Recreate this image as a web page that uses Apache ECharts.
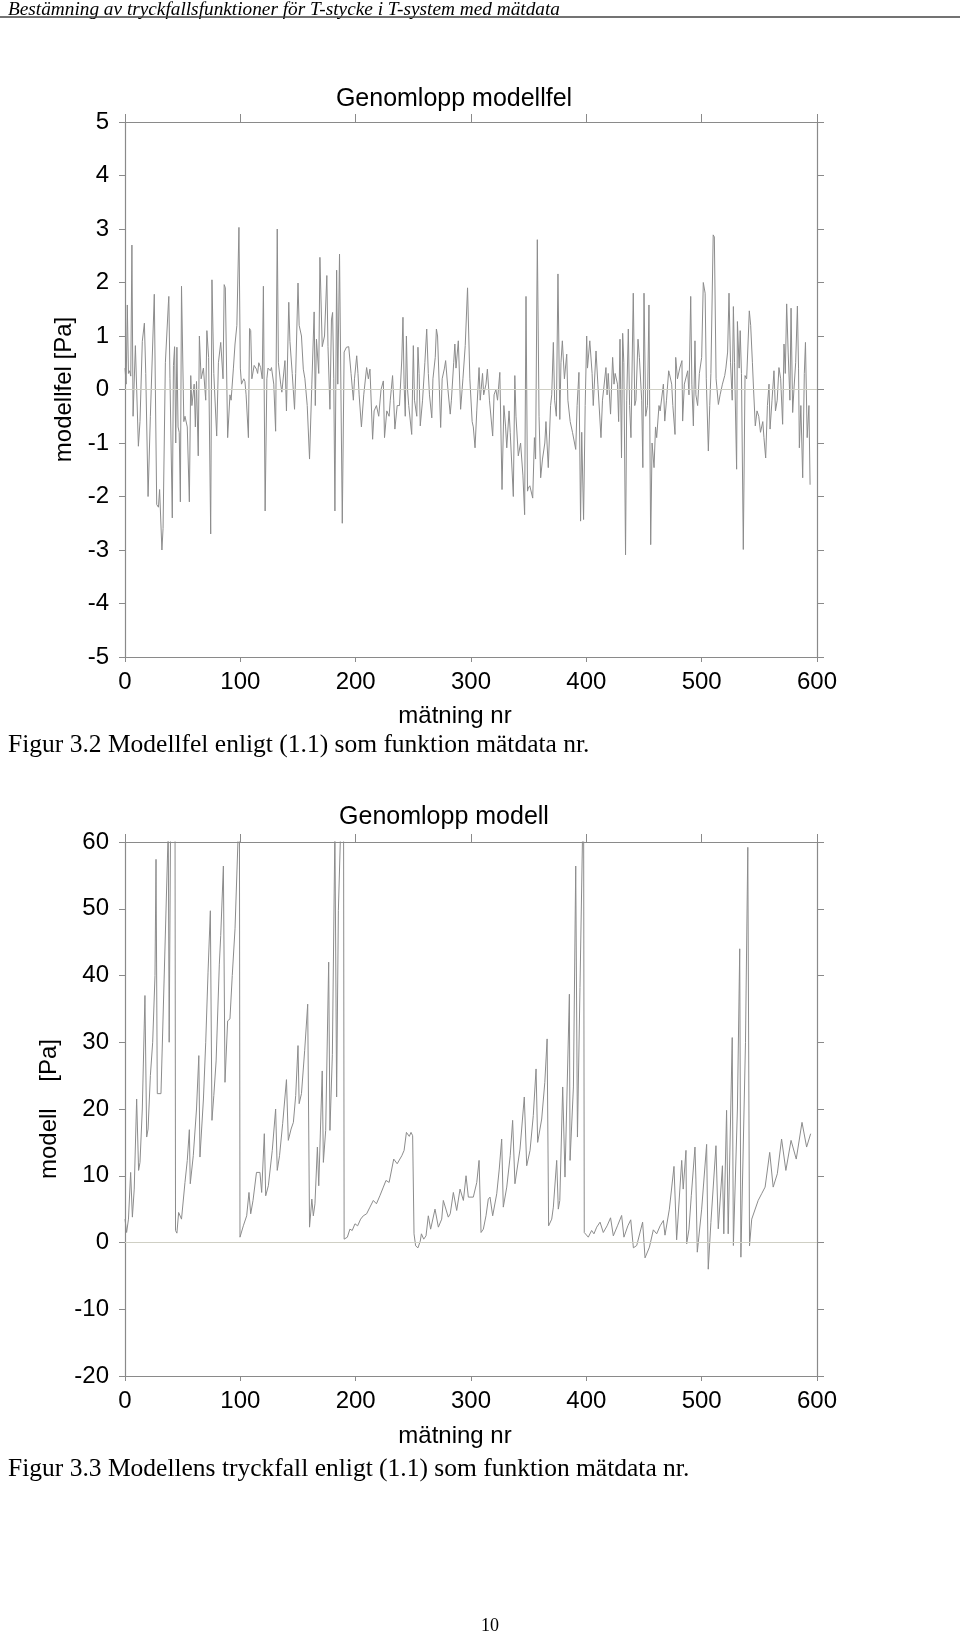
<!DOCTYPE html>
<html>
<head>
<meta charset="utf-8">
<script src="https://cdn.jsdelivr.net/npm/echarts@6/dist/echarts.min.js"></script>
<style>
html,body{margin:0;padding:0;background:#fff;}
#c{width:960px;height:1634px;}
</style>
</head>
<body>
<div id="c"></div>
<script>
// ---- Data ----
const headerText = 'Bestämning av tryckfallsfunktioner för T-stycke i T-system med mätdata';
const title1 = 'Genomlopp modellfel';
const title2 = 'Genomlopp modell';
const xName = 'mätning nr';
const yName1 = 'modellfel [Pa]';
const yName2 = 'modell    [Pa]';
const caption1 = 'Figur 3.2 Modellfel enligt (1.1) som funktion mätdata nr.';
const caption2 = 'Figur 3.3 Modellens tryckfall enligt (1.1) som funktion mätdata nr.';
const pageNo = '10';
const xTicks = [0, 100, 200, 300, 400, 500, 600];
const y1Range = [-5, 5, 1];
const y2Range = [-20, 60, 10];

// Modellfel [mätning nr, Pa]
const modellfel = [
[0,0.4],[1,0.1],[2,1.58],[3,0.3],[4,0.35],[5,0.25],[6,2.7],[7,-0.5],[9,0.82],[11.6,-1.06],[13,-0.6],[15,0.9],[16.8,1.24],[18,0.3],[20,-2.0],[22,-0.5],[25.4,1.78],[27.5,-2.15],[29,-2.2],[30,-1.87],[32,-3.0],[33,-2.6],[35,0.5],[37.6,1.6],[38,1.74],[39,0.2],[41,-2.4],[42,0.45],[43,0.8],[44,-1.0],[45,0.79],[46,-0.7],[47,-0.8],[48,-2.1],[49,1.93],[51,-0.6],[52,-0.5],[54,-0.7],[55.8,-2.1],[57,0.26],[58,-0.3],[60,0.1],[61,-0.7],[62,0.15],[63.5,-1.24],[64.5,1.0],[66,0.2],[68,0.4],[70,-0.2],[71,1.1],[72.5,0.6],[74.3,-2.7],[75.4,2.05],[77,0.3],[79.5,-0.87],[81,0.5],[83,0.88],[85,0.2],[86,1.96],[87,1.9],[89,-0.9],[91,-0.1],[92,-0.2],[94,0.4],[95.4,0.85],[97,1.2],[98.8,3.03],[100,0.4],[101,0.1],[103,0.2],[104,0.15],[105,-0.1],[107,-0.9],[108,1.14],[109,1.1],[110,0.2],[111,0.22],[112,0.45],[114,0.38],[115,0.3],[116,0.5],[117.6,0.41],[119,0.2],[120,1.93],[121.5,-2.27],[123,0.2],[124,0.4],[126,0.35],[127,0.41],[129,0.1],[130.6,-0.78],[132,3.0],[133,0.5],[135,0.1],[136,-0.05],[138.7,0.54],[140,-0.4],[142,1.63],[143,0.9],[145,0.3],[147,-0.37],[148,0.3],[150,1.99],[151,1.2],[153,1.0],[154.6,0.38],[156,0.2],[158,-0.3],[160,-1.3],[162,0.1],[164,1.45],[165,-0.3],[166,0.94],[168,0.3],[169,2.47],[171,0.8],[173,1.0],[175,2.13],[176,0.8],[177.7,-0.37],[179,1.3],[180,1.44],[181,0.2],[182,-2.27],[183.5,2.23],[184.5,0.1],[186,2.53],[187,2.5],[188.4,-2.5],[190,0.7],[192,0.79],[194,0.8],[196,0.3],[198,-0.2],[199,0.2],[200.9,0.63],[202,0.3],[203,-0.1],[205,-0.7],[207,-0.1],[209.5,0.41],[211,0.2],[212.4,0.38],[214.7,-0.93],[216,-0.4],[218,-0.3],[220,-0.5],[222,0.0],[224,0.16],[225,-0.9],[227,-0.4],[229,-0.5],[230,-0.2],[232,0.26],[233,-0.2],[234,-0.74],[236,-0.3],[238,-0.3],[240,0.57],[241,1.35],[242,0.1],[243,-0.5],[244,1.0],[245,0.0],[246,-0.3],[248.6,-0.84],[250,0.82],[251,-0.2],[253,-0.5],[254,0.79],[255,0.3],[256,-0.68],[258,-0.2],[260,0.5],[261.6,1.13],[263,0.3],[264,-0.1],[266,-0.53],[267,0.2],[269,0.6],[270,1.13],[271,1.0],[273.7,-0.71],[275,0.2],[277,0.4],[278,0.54],[280,0.0],[282,-0.46],[283,-0.2],[285,0.5],[286,0.85],[287,0.4],[289,0.91],[291,-0.37],[293,0.2],[295,0.82],[297,1.9],[299,0.2],[301,-0.6],[302,-0.7],[303.5,-1.09],[305,-0.4],[307,0.41],[308,-0.2],[310,0.3],[311,-0.1],[313,0.1],[314.2,0.38],[316,-0.2],[318.8,-0.87],[320,-0.1],[321.6,0.0],[323,-0.2],[325,0.32],[326.9,-1.87],[328.5,-0.3],[330,-0.7],[331,-1.09],[333,-0.4],[334,-0.8],[336.7,-2.0],[338,0.26],[339,-0.5],[341,-1.24],[343,-1.0],[345,-1.6],[346.5,-2.34],[347.7,1.74],[349,-1.9],[349.7,-1.84],[351,-1.8],[353.5,-2.03],[355,-0.9],[356,-1.3],[357.5,2.8],[359,-0.5],[360.4,-1.65],[362,-1.3],[364,-1.0],[365,-0.6],[367,-1.46],[369,-0.3],[370,-0.1],[371.4,0.88],[372.5,-0.2],[374,-0.5],[375.4,2.16],[377,-0.56],[378,0.5],[379.2,0.91],[381,0.2],[383,0.66],[384,-0.2],[386,-0.6],[388,-0.8],[390.8,-1.12],[392,-0.3],[393.6,0.32],[395,-2.46],[396,-0.8],[397.6,-2.43],[399,-0.3],[400.3,1.0],[401,0.4],[403,0.91],[405,0.3],[406,-0.3],[408.4,0.72],[410,0.1],[412.7,-0.9],[414,-0.2],[415,0.0],[417,0.41],[418,-0.1],[419,0.3],[421,-0.46],[422.8,0.6],[424,0.1],[425,0.3],[427,0.1],[428,-0.6],[429.2,0.94],[430.5,-1.28],[431.5,1.05],[432.5,0.5],[434,-3.09],[435,-0.2],[436.4,1.13],[437.5,-0.3],[438.7,-0.9],[440.7,1.8],[442,-0.3],[443,-0.2],[444.8,0.94],[446,0.6],[448,-0.2],[449,-1.46],[450,1.8],[451.5,-0.5],[453,-0.3],[454.3,1.58],[455.8,-2.9],[457,-1.0],[458.7,-1.46],[460,-0.7],[461,-0.9],[463,-0.3],[464,-0.4],[466.8,0.1],[468,-0.59],[469.5,-0.2],[471.4,0.35],[472,0.3],[474,0.1],[475,-0.3],[476.9,-0.84],[477.5,0.6],[479,0.2],[481,0.4],[482.9,0.54],[483.5,-0.59],[485,0.1],[487.9,0.35],[489,-0.1],[490.5,1.74],[491.5,0.1],[492.8,-0.68],[494.2,0.91],[495,-0.1],[496.5,-0.3],[498,0.3],[500,0.6],[501.4,2.0],[503,1.8],[504,0.2],[505.8,-1.15],[507,-0.3],[508,0.3],[510,2.89],[511,2.85],[512.5,0.2],[514.5,-0.28],[516,-0.1],[518,0.1],[520,0.26],[521,0.4],[522.5,0.7],[523.7,1.8],[525,0.5],[526.5,-0.2],[527.5,1.55],[528.5,0.5],[530.3,-1.49],[531,1.27],[532.5,0.4],[533.4,1.1],[534.5,0.3],[536.1,-2.99],[537.6,0.26],[539,0.2],[541.3,1.47],[542.5,1.2],[544,0.5],[545,0.0],[546.5,-0.68],[548,-0.4],[549.5,-0.5],[551,-0.8],[553,-0.6],[554,-0.9],[555.5,-1.28],[557,-0.3],[558.4,0.1],[559.3,-0.74],[561,-0.2],[562.7,0.35],[564,-0.4],[565.5,-0.2],[567,0.41],[568.5,0.2],[570.2,-0.65],[571.4,0.85],[572.5,0.3],[573.7,1.6],[575,0.7],[576.5,-0.2],[577.5,1.52],[578.9,-0.43],[580,0.0],[581.5,0.5],[583,1.56],[584,0.4],[584.7,-1.09],[586,-0.3],[587.6,-1.65],[589,0.3],[590,0.88],[591.5,-0.9],[593,-0.3],[594,-1.78]
];

// Modell [mätning nr, Pa]
const modell = [
[0,3.5],[1.4,1.5],[3,3.5],[4.9,10.5],[6.4,3.8],[8,8],[10.1,21.5],[11.8,10.8],[13,12],[15,20],[17.3,37],[18.8,15.8],[20,17],[22,25],[24,30],[26,40],[26.9,57.4],[28,22.3],[31.2,22.3],[37.5,62],[38.3,30],[39.5,62],[41,72],[43.3,75],[43.8,1.8],
[45,1.4],[46.5,4.5],[49,3.5],[52,9],[54,12.3],[55.8,16.9],[56.6,8.8],[59.2,13],[62,20],[64,28],[65,12.8],[68,21.5],[70,30],[72,40.5],[74,49.7],[75.4,18.3],[77,22],[79,27.2],[81.8,41.7],[83,46],[85.3,56.4],[86.7,24],[89,33.2],[91,33.5],[93,40],[95.4,47],[98.3,62],[99.2,66],[99.7,0.8],
[102.6,2.5],[105.5,4],[107.5,7.5],[109,4.3],[111,6.3],[114,10.5],[117,10.5],[118.5,7.5],[120.8,16.3],[122,7],[124.3,8.5],[127.7,13.8],[129,13.8],[130.6,20],[132,10.8],[134,13],[136.7,17.8],[137.9,18],[140,24.4],[141.6,15.3],[144,17],[146,18],[148,22],[150,29.5],[151,20.8],[153,22.3],[155.8,28.8],[157.5,29],[158.4,35.7],[160,2.3],
[160.6,2.5],[162,6.5],[163.3,4],[164.7,5.8],[166.8,14.3],[168,8.5],[171,25.7],[172,12],[174,16.8],[176.6,42],[177.7,16.8],[179.8,28.2],[182,62],[183.5,21.8],[185,49.7],[187,62],[188,70],[189.5,66],[190,0.5],
[190.8,0.5],[192.8,0.8],[195,2],[197,1.8],[199.4,2.8],[201.7,2.5],[204.3,3.5],[206.6,4],[209.5,4.3],[212.4,5.3],[215.3,6.3],[218,5.8],[221,7],[224,8.3],[226.3,9.3],[229,9],[233,12.5],[236,11.8],[240,13],[242,13.8],[244,16.5],[246.5,15.9],[248,16.5],[249.4,16],[250.6,1.3],
[252,-0.5],[254,-0.8],[256,0.2],[257,1.3],[259,0.5],[261,1],[263,4],[265,2],[268.8,5],[271.7,2.3],[274.6,3.5],[276,6.3],[277.5,6.3],[280.3,3.8],[282,4.3],[284.7,7.5],[287.6,4.8],[290.5,8],[293.4,6.3],[295.7,10],[297.7,6.8],[302,6.8],[305,9],[307,12.3],[308.7,1.5],[310.7,2],[313,4],[315,6.5],[316.5,6.8],[318.8,4],[322.3,7.3],[324.5,11],[326.6,15.5],[328,5.3],[331,8.3],[334,13],[336.1,18.3],[338.1,8.8],[342.5,14],[346.2,21.8],[348.3,11.5],[351.2,13.8],[354,19],[356.4,26],[357.8,15],[361.3,18.5],[364,24],[366,30.5],[367.3,2.5],
[370,3.5],[371.4,5.3],[374.3,12.3],[375.7,5],[377,6.3],[379.5,23.3],[381.5,9.8],[385.3,37.2],[385.9,12.3],[388.8,23.3],[390.8,56.4],[392.3,15.8],[394.5,38.2],[396.8,62],[397.6,70],[398.2,1.5],
[401.7,0.8],[404.6,1.8],[406.6,1.3],[409,2.3],[411.9,3.05],[414.7,1.5],[418,2.5],[421,3.7],[423.4,1.0],[427,2.5],[430.6,4.05],[432.6,0.8],[436,2.5],[438.5,3.4],[440.8,-0.8],[443.7,-0.45],[448.8,3.05],[450.9,-2.3],[454.7,-0.7],[458.1,1.9],[461,1.3],[464,2.5],[466.8,3.3],[468.2,1.1],[472,5],[476,11.4],[478.3,0.4],[482.7,12.3],[484,8],[486.4,13.8],[487,-0.2],[489,2],[491,7],[494.2,14.3],[495,9.5],[496.2,-1.45],[500,5],[504.3,14.7],[505.7,-4],[508,3],[512.4,14.5],[514.4,2.05],[518,11.5],[519.2,1.3],[521.6,19.8],[523,1.3],[526.5,30.7],[527.5,-0.45],[531,20],[533,44],[534,-2.2],[538,30],[540,59.2],[541.5,-0.5],
[543.4,3.5],[545,3.5],[549,6.3],[552,7.3],[555,8.3],[559,13.5],[562,8.3],[565.6,10.3],[569.3,15.5],[573,10.8],[577.5,15.3],[582,12.5],[587,18],[591,14.3],[594.5,16.3]
];

// ---- Chart ----
const chart = echarts.init(document.getElementById('c'), null, {renderer: 'canvas'});
const AX = '#8a8a8a';
const LINE = '#8c8c8c';
const ZERO = '#cfcfc4';
const SANS = '"Liberation Sans", Arial, sans-serif';
const SERIF = '"Liberation Serif", "Times New Roman", serif';
const FS = 24;

const grids = [
  {left: 125, top: 122, width: 692, height: 535},
  {left: 125, top: 842, width: 692, height: 534}
];

function xAxes(gi, nameGap) {
  return [
    {
      type: 'value', gridIndex: gi, position: 'bottom', min: xTicks[0], max: xTicks[xTicks.length - 1], interval: 100,
      name: xName, nameLocation: 'middle', nameGap: nameGap,
      nameTextStyle: {fontFamily: SANS, fontSize: FS, color: '#000', padding: [0, 32, 0, 0]},
      axisLine: {show: true, onZero: false, lineStyle: {color: AX, width: 1.2}},
      axisTick: {show: true, inside: false, length: 5, lineStyle: {color: AX}},
      axisLabel: {show: true, margin: 13, fontFamily: SANS, fontSize: FS, color: '#000'},
      splitLine: {show: false}
    },
    {
      type: 'value', gridIndex: gi, position: 'top', min: xTicks[0], max: xTicks[xTicks.length - 1], interval: 100,
      axisLine: {show: true, onZero: false, lineStyle: {color: AX, width: 1.2}},
      axisTick: {show: true, inside: false, length: 8, lineStyle: {color: AX}},
      axisLabel: {show: false}, splitLine: {show: false}
    }
  ];
}
function yAxes(gi, range, name, nameGap) {
  return [
    {
      type: 'value', gridIndex: gi, position: 'left', min: range[0], max: range[1], interval: range[2],
      name: name, nameLocation: 'middle', nameGap: nameGap, nameRotate: 90,
      nameTextStyle: {fontFamily: SANS, fontSize: FS, color: '#000'},
      axisLine: {show: true, onZero: false, lineStyle: {color: AX, width: 1.2}},
      axisTick: {show: true, inside: false, length: 6, lineStyle: {color: AX}},
      axisLabel: {show: true, margin: 16, fontFamily: SANS, fontSize: FS, color: '#000'},
      splitLine: {show: false}
    },
    {
      type: 'value', gridIndex: gi, position: 'right', min: range[0], max: range[1], interval: range[2],
      axisLine: {show: true, onZero: false, lineStyle: {color: AX, width: 1.2}},
      axisTick: {show: true, inside: false, length: 7, lineStyle: {color: AX}},
      axisLabel: {show: false}, splitLine: {show: false}
    }
  ];
}

function lineSeries(data, xi, yi) {
  return {
    type: 'line', xAxisIndex: xi, yAxisIndex: yi, data: data,
    showSymbol: false, symbol: 'none', clip: true, animation: false,
    lineStyle: {color: LINE, width: 1},
    markLine: {
      silent: true, symbol: 'none', animation: false, label: {show: false},
      lineStyle: {color: ZERO, width: 1, type: 'solid'},
      data: [{yAxis: 0}]
    }
  };
}

const option = {
  animation: false,
  backgroundColor: '#fff',
  grid: grids,
  title: [
    {text: title1, left: 449, top: 82, textAlign: 'center', textStyle: {fontFamily: SANS, fontSize: 25, fontWeight: 'normal', color: '#000'}},
    {text: title2, left: 439, top: 800, textAlign: 'center', textStyle: {fontFamily: SANS, fontSize: 25, fontWeight: 'normal', color: '#000'}}
  ],
  xAxis: [...xAxes(0, 47), ...xAxes(1, 48)],
  yAxis: [...yAxes(0, y1Range, yName1, 48), ...yAxes(1, y2Range, yName2, 64)],
  series: [
    lineSeries(modellfel, 0, 0),
    lineSeries(modell, 2, 2)
  ],
  graphic: [
    {type: 'text', left: 8, top: 0, style: {text: headerText, font: 'italic 19.3px ' + SERIF, fill: '#000'}},
    {type: 'line', shape: {x1: 0, y1: 17, x2: 960, y2: 17}, style: {stroke: '#444', lineWidth: 1.5}},
    {type: 'text', left: 8, top: 732, style: {text: caption1, font: '25.5px ' + SERIF, fill: '#000'}},
    {type: 'text', left: 8, top: 1456, style: {text: caption2, font: '25.5px ' + SERIF, fill: '#000'}},
    {type: 'text', left: 481, top: 1617, style: {text: pageNo, font: '18px ' + SERIF, fill: '#000'}}
  ]
};
chart.setOption(option);
</script>
</body>
</html>
